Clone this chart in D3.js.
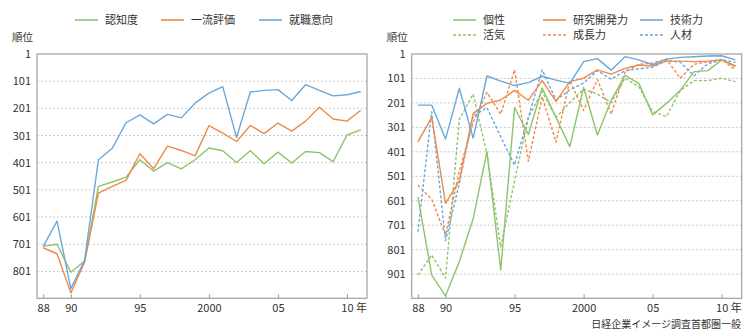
<!DOCTYPE html>
<html>
<head>
<meta charset="utf-8">
<script src="https://cdn.jsdelivr.net/npm/d3@7"></script>
<style>
  body { margin: 0; background: #fff; }
  svg { font-family: "Noto Sans CJK JP", "Noto Sans", sans-serif; }
</style>
</head>
<body>
<svg id="chart" width="750" height="335"></svg>
<script>
// data (ranking, 1 = best)
var years = d3.range(1988, 2012);

var ninchido   = [709,701,804,763,488,472,454,390,432,401,424,390,347,357,400,357,405,362,402,360,364,397,299,280];
var ichiryu    = [714,736,880,766,513,488,466,368,423,340,356,376,265,292,323,264,294,255,285,248,197,240,248,208];
var shushoku   = [709,616,864,760,390,348,254,225,258,223,236,182,145,121,308,141,135,132,172,114,135,155,151,139];

var kosei      = [585,905,990,850,675,400,884,220,330,140,260,380,138,332,190,88,121,250,203,150,73,69,25,53];
var kenkyu     = [360,260,612,520,245,203,189,150,190,110,195,114,100,66,83,60,46,50,30,30,32,30,25,50];
var gijutsu    = [210,210,349,141,345,91,112,130,118,92,108,121,32,20,67,12,25,45,22,15,12,9,8,25];
var kakki      = [905,823,918,268,165,410,790,520,260,155,260,200,145,165,200,100,135,237,257,150,110,110,100,114];
var seicho     = [537,595,742,480,280,158,247,66,440,176,362,110,232,105,247,75,43,38,22,100,43,32,23,66];
var jinzai     = [728,237,765,530,255,220,340,455,260,66,189,148,120,69,104,69,62,55,28,35,90,40,25,35];

var xTicks = [1988, 1990, 1995, 2000, 2005, 2010];
var xTickLabels = ["88", "90", "95", "2000", "05", "10"];
var leftTicks = [1, 101, 201, 301, 401, 501, 601, 701, 801];
var rightTicks = [1, 101, 201, 301, 401, 501, 601, 701, 801, 901];

var green = "#8dc46b", orange = "#ef8a4a", blue = "#6aa8dc";

var svg = d3.select("#chart");

function drawPanel(x0, yMax, yTicks, series, legend){
  var top = 54, bottom = 298.3, width = 330;

  var x = d3.scaleLinear()
      .domain([1987.55, 2011.45])
      .range([x0, x0 + width]);
  var y = d3.scaleLinear()
      .domain([1, yMax])
      .range([top, bottom]);

  var g = svg.append("g");

  // dashed grid
  g.selectAll(".grid")
      .data(yTicks.slice(1))
      .enter()
      .append("line")
      .attr("x1", x0).attr("x2", x0 + width)
      .attr("y1", function(d){ return y(d); })
      .attr("y2", function(d){ return y(d); })
      .attr("stroke", "#c8c8c8")
      .attr("stroke-dasharray", "2,2")
      .attr("stroke-width", 1);

  // frame
  g.append("rect")
      .attr("x", x0).attr("y", top)
      .attr("width", width).attr("height", bottom - top)
      .attr("fill", "none")
      .attr("stroke", "#a0a0a0")
      .attr("stroke-width", 1.2);

  // y labels
  g.selectAll(".ylab")
      .data(yTicks)
      .enter()
      .append("text")
      .attr("x", x0 - 6)
      .attr("y", function(d){ return y(d) + 4; })
      .attr("text-anchor", "end")
      .attr("font-size", 11)
      .attr("fill", "#333")
      .text(function(d){ return d; });

  g.append("text")
      .attr("x", x0 - 25)
      .attr("y", 41)
      .attr("font-size", 10.5)
      .attr("fill", "#333")
      .text("順位");

  // x axis (inner ticks)
  var axis = d3.axisBottom(x)
      .tickValues(xTicks)
      .tickSizeInner(-4)
      .tickSizeOuter(0)
      .tickPadding(6)
      .tickFormat(function(d, i){ return xTickLabels[i]; });

  var ax = g.append("g")
      .attr("transform", "translate(0," + bottom + ")")
      .call(axis);
  ax.select(".domain").remove();
  ax.selectAll("line").attr("stroke", "#999");
  ax.selectAll("text")
      .attr("font-size", 11)
      .attr("fill", "#333")
      .attr("font-family", "\"Noto Sans CJK JP\", sans-serif");

  g.append("text")
      .attr("x", x(2010) + 9)
      .attr("y", bottom + 14)
      .attr("font-size", 11)
      .attr("fill", "#333")
      .text("年");

  var line = d3.line()
      .x(function(d, i){ return x(years[i]); })
      .y(function(d){ return y(d); });

  series.forEach(function(s){
    g.append("path")
        .datum(s.values)
        .attr("d", line)
        .attr("fill", "none")
        .attr("stroke", s.color)
        .attr("stroke-width", 1.4)
        .attr("stroke-dasharray", s.dash ? "3,2" : null)
        .attr("stroke-linejoin", "round");
  });

  // legend
  legend.forEach(function(l){
    g.append("line")
        .attr("x1", l.x).attr("x2", l.x + 23)
        .attr("y1", l.y).attr("y2", l.y)
        .attr("stroke", l.color)
        .attr("stroke-width", 1.6)
        .attr("stroke-dasharray", l.dash ? "3,2" : null);
    g.append("text")
        .attr("x", l.x + 30)
        .attr("y", l.y + 4)
        .attr("font-size", 11)
        .attr("fill", "#333")
        .text(l.name);
  });
}

drawPanel(37, 900, leftTicks, [
  {values: ninchido, color: green},
  {values: ichiryu, color: orange},
  {values: shushoku, color: blue}
], [
  {name: "認知度", color: green, x: 75, y: 20},
  {name: "一流評価", color: orange, x: 161, y: 20},
  {name: "就職意向", color: blue, x: 259, y: 20}
]);

drawPanel(411.7, 1000, rightTicks, [
  {values: kakki, color: green, dash: true},
  {values: seicho, color: orange, dash: true},
  {values: jinzai, color: blue, dash: true},
  {values: kosei, color: green},
  {values: kenkyu, color: orange},
  {values: gijutsu, color: blue}
], [
  {name: "個性", color: green, x: 453, y: 20},
  {name: "研究開発力", color: orange, x: 543, y: 20},
  {name: "技術力", color: blue, x: 640, y: 20},
  {name: "活気", color: green, x: 453, y: 35, dash: true},
  {name: "成長力", color: orange, x: 543, y: 35, dash: true},
  {name: "人材", color: blue, x: 640, y: 35, dash: true}
]);

svg.append("text")
    .attr("x", 741)
    .attr("y", 328)
    .attr("text-anchor", "end")
    .attr("font-size", 10)
    .attr("fill", "#333")
    .text("日経企業イメージ調査首都圏一般");
</script>
</body>
</html>
